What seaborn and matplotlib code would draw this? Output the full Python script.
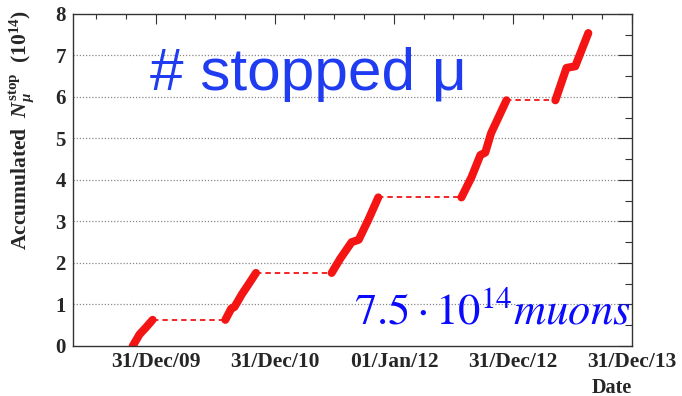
import numpy as np
import pandas as pd
from matplotlib import use
use('agg')
import matplotlib.pyplot as plt
import matplotlib.dates as mdates
import seaborn as sns

# accumulated stopped muons (1e14), one list per run period
run_dates = [
    ['2009-10-22', '2009-11-12', '2009-12-02', '2009-12-22'],
    ['2010-08-02', '2010-08-20', '2010-08-30', '2010-09-22', '2010-10-15', '2010-11-04'],
    ['2011-06-24', '2011-07-20', '2011-08-24', '2011-09-15', '2011-10-15', '2011-11-14'],
    ['2012-07-26', '2012-08-26', '2012-09-22', '2012-10-07', '2012-10-25', '2012-12-11'],
    ['2013-05-10', '2013-06-13', '2013-07-10', '2013-08-19'],
]
run_values = [
    [0.0, 0.28, 0.45, 0.63],
    [0.63, 0.90, 0.94, 1.25, 1.52, 1.76],
    [1.76, 2.10, 2.50, 2.56, 3.05, 3.58],
    [3.58, 4.07, 4.60, 4.66, 5.13, 5.92],
    [5.92, 6.70, 6.74, 7.54],
]
tick_dates = ['2009-12-31', '2010-12-31', '2012-01-01', '2012-12-31', '2013-12-31']
tick_labels = ['31/Dec/09', '31/Dec/10', '01/Jan/12', '31/Dec/12', '31/Dec/13']
x_range = ['2009-04-21', '2013-12-31']

rows = []
for i, (ds, vs) in enumerate(zip(run_dates, run_values)):
    for d, v in zip(ds, vs):
        rows.append({'date': pd.Timestamp(d), 'value': v, 'run': i})
df = pd.DataFrame(rows)

# dashed plateaus between runs
gaps = []
for i in range(len(run_dates) - 1):
    gaps.append({'date': pd.Timestamp(run_dates[i][-1]), 'value': run_values[i][-1], 'gap': i})
    gaps.append({'date': pd.Timestamp(run_dates[i + 1][0]), 'value': run_values[i][-1], 'gap': i})
gdf = pd.DataFrame(gaps)

sns.set_style('white')
plt.rcParams['font.family'] = ['Liberation Serif', 'DejaVu Serif']
plt.rcParams['mathtext.fontset'] = 'custom'
plt.rcParams['mathtext.rm'] = 'Liberation Serif:bold'
plt.rcParams['mathtext.it'] = 'Liberation Serif:bold:italic'
plt.rcParams['mathtext.bf'] = 'Liberation Serif:bold'

fig = plt.figure(figsize=(6.82, 3.96), dpi=100)
ax = fig.add_axes([0.1066, 0.1263, 0.8201, 0.8384])

red = '#f51414'
sns.lineplot(data=gdf, x='date', y='value', units='gap', estimator=None,
             color=red, lw=1.3, ls=(0, (3, 2.2)), ax=ax)
sns.lineplot(data=df, x='date', y='value', units='run', estimator=None,
             color=red, lw=5.8, solid_capstyle='round', solid_joinstyle='round', ax=ax)

ax.set_xlim(pd.Timestamp(x_range[0]), pd.Timestamp(x_range[1]))
ax.set_ylim(0, 8)
for y in range(1, 8):
    ax.axhline(y, color='#888888', lw=0.9, ls=(0, (1, 1.5)), zorder=0)

ax.set_xticks([pd.Timestamp(d) for d in tick_dates])
ax.set_xticklabels(tick_labels)
ax.xaxis.set_minor_locator(mdates.MonthLocator(bymonth=[4, 7, 10]))
ax.set_yticks(range(0, 9))
ax.set_yticks(np.arange(0.5, 8, 1), minor=True)
ax.tick_params(which='both', direction='in', top=True, right=True, color='#333333', width=0.8)
ax.tick_params(axis='x', which='major', length=7.5, labelsize=15.5, pad=4)
ax.tick_params(axis='x', which='minor', length=3.8)
ax.tick_params(axis='y', which='major', length=10, labelsize=15, pad=5)
ax.tick_params(axis='y', which='minor', length=5)
for lab in ax.get_xticklabels() + ax.get_yticklabels():
    lab.set_fontweight('bold')
for s in ax.spines.values():
    s.set_color('#333333')
    s.set_linewidth(1.0)

ax.set_xlabel('Date', fontsize=14.5, fontweight='bold', loc='right')
ax.xaxis.set_label_coords(1.0, -0.095)
ax.set_ylabel(r'Accumulated  $N_{\mu}^{\mathrm{stop}}$  (10$^{14}$)', fontsize=15.5,
              fontweight='bold', loc='top')
ax.yaxis.set_label_coords(-0.066, 1.012)

ax.text(0.138, 0.771, '# stopped μ', transform=ax.transAxes, fontsize=43.5,
        family='Liberation Sans', color='#1f3cf0', ha='left', va='baseline')
ax.text(0.998, 0.069, r'$7.5\cdot10^{14}\mathit{muons}$', transform=ax.transAxes,
        fontsize=32, color='#0a0aff', ha='right', va='baseline', math_fontfamily='stix')

fig.savefig('out.png', dpi=100)
